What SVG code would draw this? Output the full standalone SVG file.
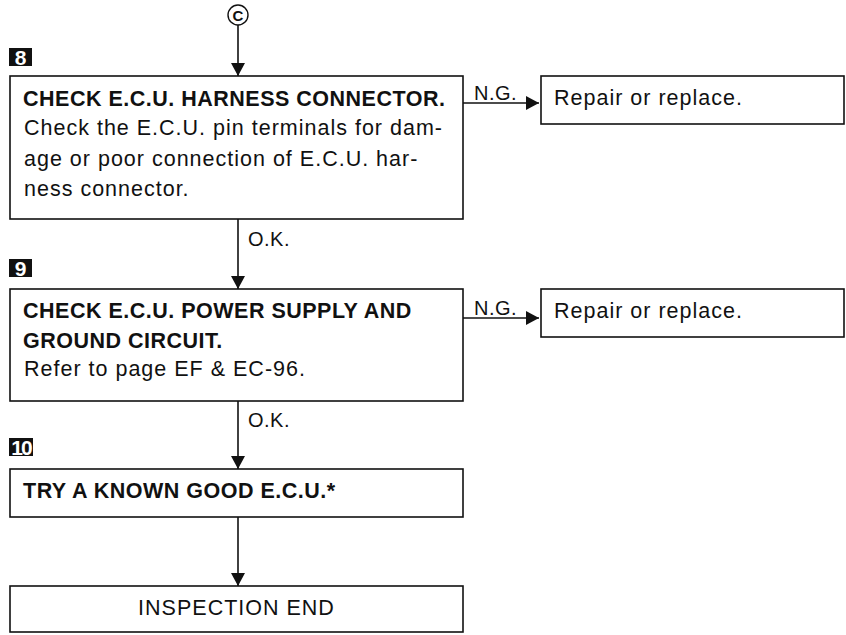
<svg xmlns="http://www.w3.org/2000/svg" width="846" height="635" viewBox="0 0 846 635">
<defs>
<marker id="arr" markerUnits="userSpaceOnUse" markerWidth="14" markerHeight="14" refX="13" refY="7" orient="auto">
<path d="M0,0 L13,7 L0,14 z" fill="#111"/>
</marker>
<style>
.box{fill:#fff;stroke:#111;stroke-width:1.6}
.t{font-family:"Liberation Sans",Arial,sans-serif;font-size:21.5px;fill:#111;letter-spacing:1px}
.b{font-family:"Liberation Sans",Arial,sans-serif;font-size:21.5px;font-weight:bold;fill:#111;letter-spacing:0.5px}
.lbl{font-family:"Liberation Sans",Arial,sans-serif;font-size:20px;fill:#111;letter-spacing:0.5px}
.badge{fill:#111}
.bt{font-family:"Liberation Sans",Arial,sans-serif;font-size:21px;font-weight:bold;fill:#fff;text-anchor:middle}
.ln{stroke:#111;stroke-width:1.6;fill:none}
</style>
</defs>
<rect width="846" height="635" fill="#fff"/>

<g id="connectors">
<line class="ln" x1="238" y1="25" x2="238" y2="76" marker-end="url(#arr)"/>
<line class="ln" x1="463" y1="103" x2="539" y2="103" marker-end="url(#arr)"/>
<line class="ln" x1="238" y1="219" x2="238" y2="289" marker-end="url(#arr)"/>
<line class="ln" x1="463" y1="318" x2="539" y2="318" marker-end="url(#arr)"/>
<line class="ln" x1="238" y1="401" x2="238" y2="469" marker-end="url(#arr)"/>
<line class="ln" x1="238" y1="517" x2="238" y2="586" marker-end="url(#arr)"/>
<text class="lbl" x="474" y="100">N.G.</text>
<text class="lbl" x="474" y="315">N.G.</text>
<text class="lbl" x="248" y="246">O.K.</text>
<text class="lbl" x="248" y="427">O.K.</text>
</g>

<g id="connectorC">
<circle cx="238" cy="15" r="10" fill="#fff" stroke="#111" stroke-width="1.4"/>
<text x="238" y="20.5" font-family="Liberation Sans, Arial, sans-serif" font-size="15" font-weight="bold" fill="#111" text-anchor="middle">C</text>
</g>

<g id="step8">
<rect class="badge" x="9" y="48" width="23" height="18"/>
<text class="bt" x="20.5" y="65">8</text>
<rect class="box" x="10" y="76" width="453" height="143"/>
<text class="b" x="23" y="106">CHECK E.C.U. HARNESS CONNECTOR.</text>
<text class="t" x="24" y="135">Check the E.C.U. pin terminals for dam-</text>
<text class="t" x="24" y="166">age or poor connection of E.C.U. har-</text>
<text class="t" x="24" y="196">ness connector.</text>
</g>

<g id="repair1">
<rect class="box" x="541" y="76" width="303" height="48"/>
<text class="t" x="554" y="105">Repair or replace.</text>
</g>

<g id="step9">
<rect class="badge" x="9" y="259" width="23" height="18"/>
<text class="bt" x="20.5" y="276">9</text>
<rect class="box" x="10" y="289" width="453" height="112"/>
<text class="b" x="23" y="318">CHECK E.C.U. POWER SUPPLY AND</text>
<text class="b" x="23" y="348">GROUND CIRCUIT.</text>
<text class="t" x="24" y="376">Refer to page EF &amp; EC-96.</text>
</g>

<g id="repair2">
<rect class="box" x="541" y="289" width="303" height="48"/>
<text class="t" x="554" y="318">Repair or replace.</text>
</g>

<g id="step10">
<rect class="badge" x="9" y="438" width="24" height="18"/>
<text class="bt" x="21" y="455" letter-spacing="-2">10</text>
<rect class="box" x="10" y="469" width="453" height="48"/>
<text class="b" x="23" y="498">TRY A KNOWN GOOD E.C.U.*</text>
</g>

<g id="end">
<rect class="box" x="10" y="586" width="453" height="46"/>
<text class="t" x="236.5" y="615" text-anchor="middle" letter-spacing="0">INSPECTION END</text>
</g>
</svg>
